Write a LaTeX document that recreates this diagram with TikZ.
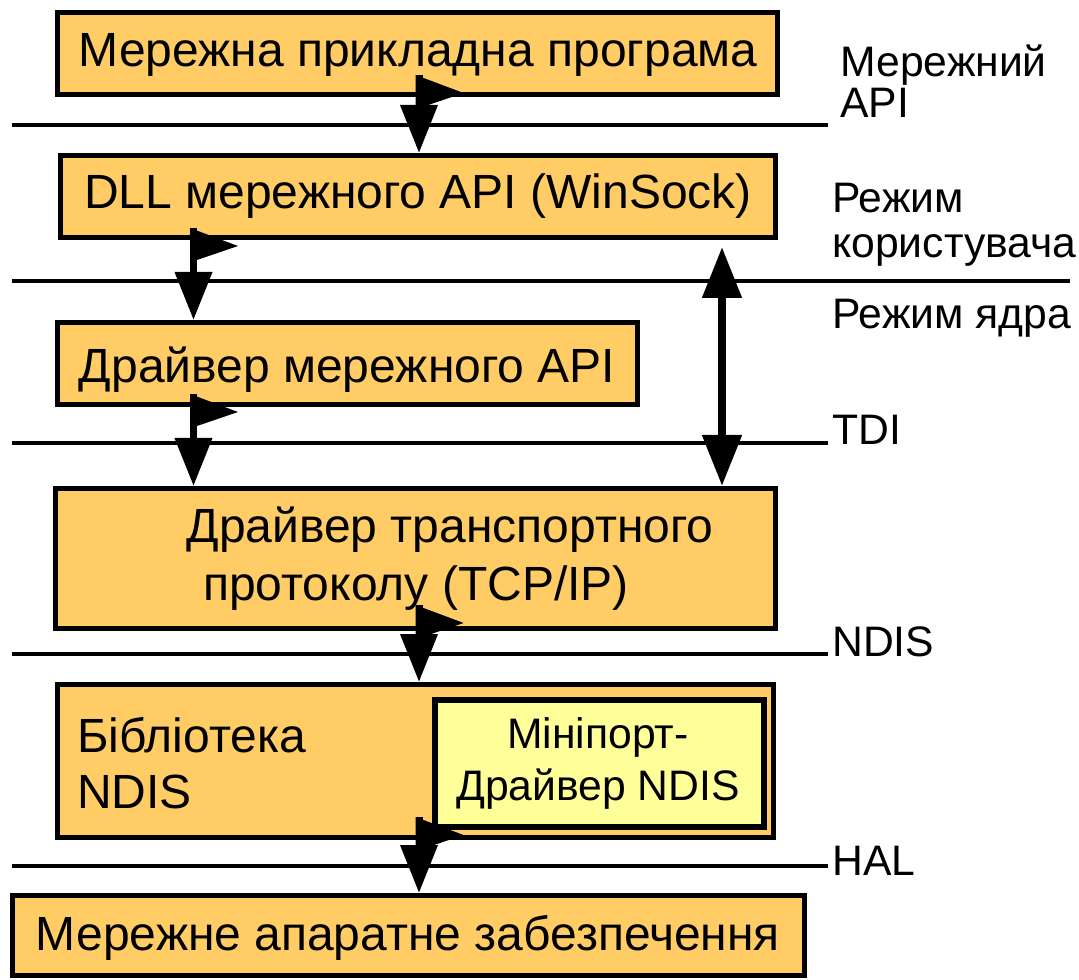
\documentclass[tikz,border=0pt]{standalone}
\usepackage{fontspec}
\setmainfont{Liberation Sans}
\usetikzlibrary{arrows.meta,calc}

\definecolor{layerfill}{HTML}{FFCC66}
\definecolor{minifill}{HTML}{FFFF99}

\tikzset{
  layer/.style={draw=black,line width=3.75pt,fill=layerfill,inner sep=0pt},
  minibox/.style={draw=black,line width=4.5pt,fill=minifill,inner sep=0pt},
  boxtext/.style={anchor=base,align=center,inner sep=0pt,font=\fontsize{36}{43.5}\selectfont},
  sidetext/.style={anchor=base west,align=left,inner sep=0pt,font=\fontsize{32}{33.75}\selectfont},
  border/.style={black,line width=2.625pt},
  flow/.style={line width=5.25pt,-{Triangle[width=27pt,length=36pt]}},
  sync/.style={line width=6pt,{Triangle[width=28.5pt,length=38.25pt]}-{Triangle[width=28.5pt,length=38.25pt]}},
}

\begin{document}
\begin{tikzpicture}[x=0.75pt,y=-0.75pt]

      \useasboundingbox (0,0) rectangle (1079,980);

      % layer borders
      \draw[border] (12,125) -- (828,125);
      \draw[border] (12,281) -- (1070,281);
      \draw[border] (12,443) -- (828,443);
      \draw[border] (12,654) -- (828,654);
      \draw[border] (12,866) -- (828,866);

      % user mode
      \node[layer,minimum width=540pt,minimum height=61.5pt] (app) at (417.5,53.5) {};
      \node[boxtext] (app-t) at (418,67) {Мережна прикладна програма};
      \node[layer,minimum width=536.25pt,minimum height=61.5pt] (dll) at (418,196.5) {};
      \node[boxtext] (dll-t) at (418,209) {DLL мережного API (WinSock)};

      % kernel mode
      \node[layer,minimum width=435pt,minimum height=61.5pt] (drv) at (347.5,363.5) {};
      \node[boxtext] (drv-t) at (347,383) {Драйвер мережного API};
      \node[layer,minimum width=540pt,minimum height=105pt] (tcp) at (415.5,558.5) {};
      \node[boxtext] (tcp-t) at (416,600) {\hspace*{51pt}Драйвер транспортного\\протоколу (TCP/IP)};
      \node[layer,minimum width=537pt,minimum height=114.75pt] (ndis) at (415.5,761) {};
      \node[boxtext,anchor=base west,align=left,font=\fontsize{36}{42}\selectfont] (ndis-t) at (77,808) {Бібліотека\\NDIS};
      \node[minibox,minimum width=246.75pt,minimum height=95.25pt] (mini) at (599.5,763.5) {};
      \node[boxtext,font=\fontsize{32}{39}\selectfont] (mini-t) at (598,800) {Мініпорт\mbox{-}\\Драйвер NDIS};

      % hardware
      \node[layer,minimum width=594pt,minimum height=60pt] (hw) at (408.5,935.5) {};
      \node[boxtext] (hw-t) at (408,950) {Мережне апаратне забезпечення};

      % interface names
      \node[sidetext,font=\fontsize{32}{30.75}\selectfont] (api) at (840,118) {Мережний\\API};
      \node[sidetext] (user) at (832,258) {Режим\\користувача};
      \node[sidetext] (kern) at (832,329) {Режим ядра};
      \node[sidetext] (tdi) at (832,445) {TDI};
      \node[sidetext] (ndis-i) at (832,657) {NDIS};
      \node[sidetext] (hal) at (832,875) {HAL};

      % calls between layers
      \draw[flow] ($(app.south -| 419,0)+(0,-22)$) -- (dll.north -| 419,0);
      \fill ($(app.south -| 415.5,0)+(0,-22)$) -- ++(48,18) -- ++(-41,14) -- ++(-7,0) -- cycle;
      \draw[flow] ($(dll.south -| 193.5,0)+(0,-12)$) -- (drv.north -| 193.5,0);
      \fill ($(dll.south -| 190,0)+(0,-12)$) -- ++(48,18) -- ++(-41,14) -- ++(-7,0) -- cycle;
      \draw[flow] ($(drv.south -| 193.5,0)+(0,-13)$) -- (tcp.north -| 193.5,0);
      \fill ($(drv.south -| 190,0)+(0,-13)$) -- ++(48,18) -- ++(-41,14) -- ++(-7,0) -- cycle;
      \draw[flow] ($(tcp.south -| 419,0)+(0,-26)$) -- (ndis.north -| 419,0);
      \fill ($(tcp.south -| 415.5,0)+(0,-26)$) -- ++(48,18) -- ++(-41,14) -- ++(-7,0) -- cycle;
      \draw[flow] ($(ndis.south -| 419,0)+(0,-23)$) -- (hw.north -| 419,0);
      \fill ($(ndis.south -| 415.5,0)+(0,-23)$) -- ++(48,18) -- ++(-41,14) -- ++(-7,0) -- cycle;

      % user/kernel crossing
      \draw[sync] ($(dll.south -| 722,0)+(0,7)$) -- (tcp.north -| 722,0);

\end{tikzpicture}
\end{document}
